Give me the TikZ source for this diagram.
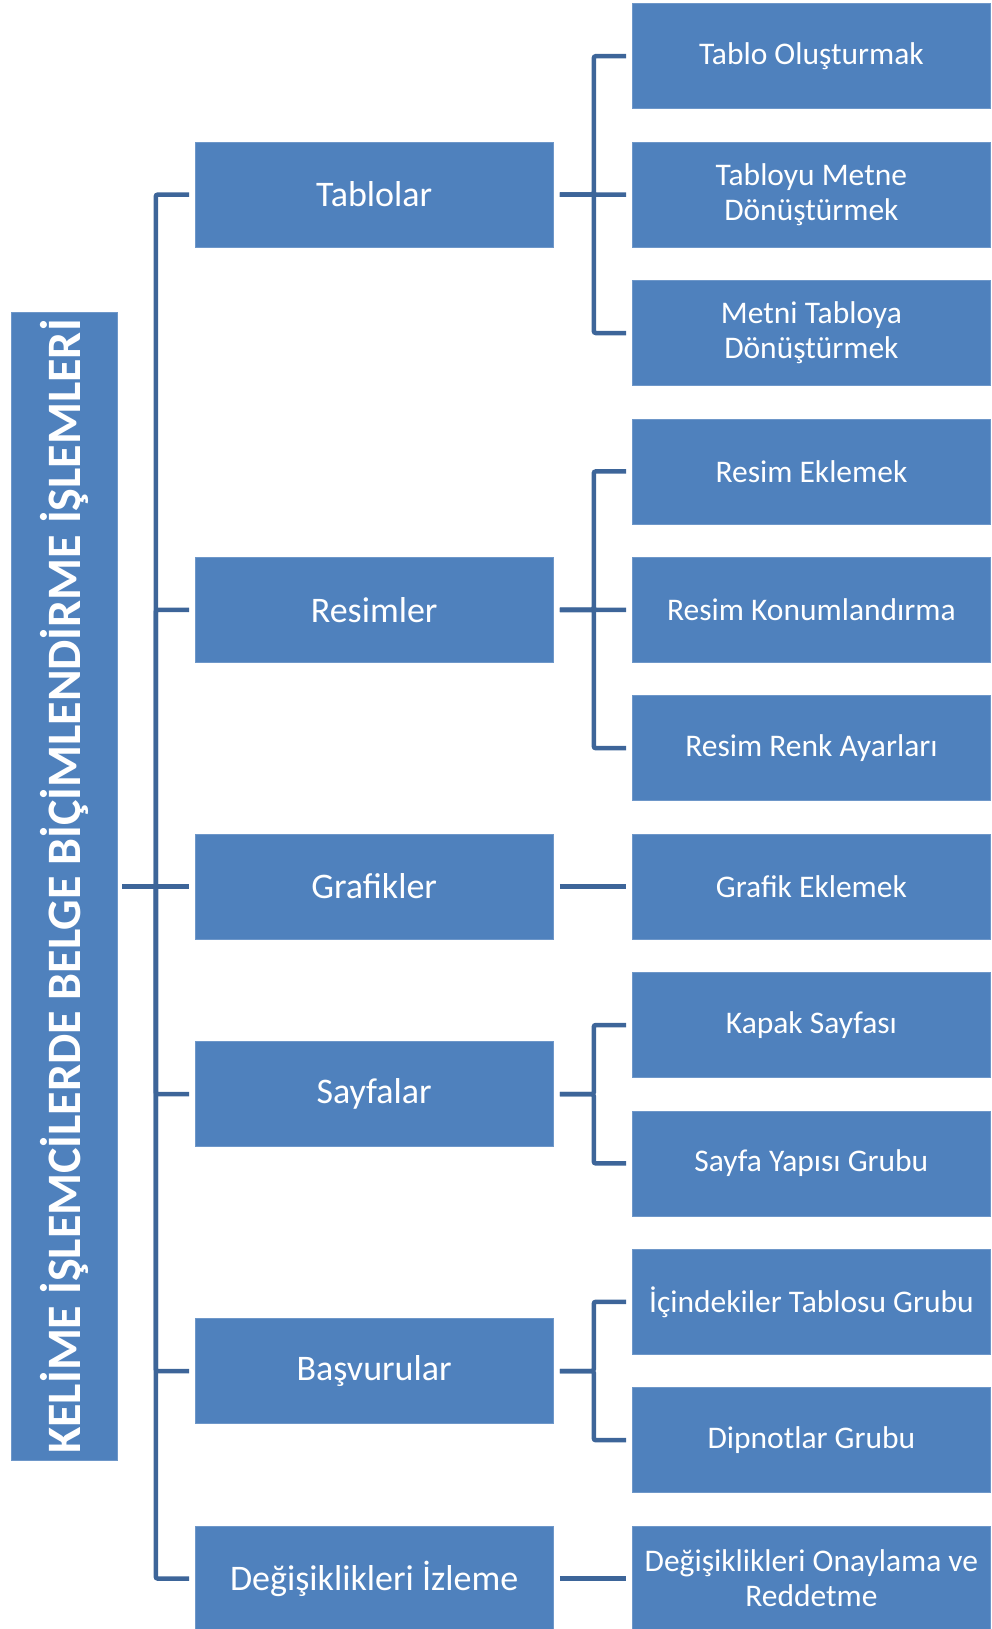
\documentclass[tikz,border=0pt]{standalone}
\usepackage{fontspec}
\setmainfont{Carlito}
\usetikzlibrary{positioning}
\definecolor{boxblue}{HTML}{4F81BD}
\definecolor{boxedge}{HTML}{6E97C9}
\definecolor{linecol}{RGB}{61,101,153}
\tikzset{
  bx/.style={rectangle, fill=boxblue, draw=boxedge, line width=0.8pt, inner sep=0pt, anchor=north west, text=white, align=center},
  lvtwo/.style={bx, minimum width=358.5pt, minimum height=105pt, font=\fontsize{36}{40}\selectfont},
  lvthree/.style={bx, minimum width=358pt, minimum height=105pt, font=\fontsize{31.5}{35}\selectfont},
  conn/.style={draw=linecol, line width=4.5pt, rounded corners=2pt},
  straightconn/.style={draw=linecol, line width=4.5pt}
}
\begin{document}
\begin{tikzpicture}[x=1pt,y=-1pt]
\useasboundingbox (0,0) rectangle (991,1629);
% main
\node[bx, minimum width=105.5pt, minimum height=1148.4pt] (main) at (11,312) {};
\node[rotate=90, text=white, font=\bfseries\fontsize{48}{56}\selectfont] (title) at (main.center) {KELİME İŞLEMCİLERDE BELGE BİÇİMLENDİRME İŞLEMLERİ};
% level 2
\node[lvtwo] (tab) at (194.5,141.7) {Tablolar};
\node[lvtwo] (res) at (194.5,556.9) {Resimler};
\node[lvtwo] (gra) at (194.5,833.7) {Grafikler};
\node[lvtwo] (say) at (194.5,1041.3) {Sayfalar};
\node[lvtwo] (bas) at (194.5,1318.1) {Başvurular};
\node[lvtwo] (deg) at (194.5,1525.7) {Değişiklikleri İzleme};
% level 3
\node[lvthree] (t1) at (632,3.3) {Tablo Oluşturmak};
\node[lvthree] (t2) at (632,141.7) {Tabloyu Metne\\Dönüştürmek};
\node[lvthree] (t3) at (632,280.1) {Metni Tabloya\\Dönüştürmek};
\node[lvthree] (r1) at (632,418.5) {Resim Eklemek};
\node[lvthree] (r2) at (632,556.9) {Resim Konumlandırma};
\node[lvthree] (r3) at (632,695.3) {Resim Renk Ayarları};
\node[lvthree] (g1) at (632,833.7) {Grafik Eklemek};
\node[lvthree] (s1) at (632,972.1) {Kapak Sayfası};
\node[lvthree] (s2) at (632,1110.5) {Sayfa Yapısı Grubu};
\node[lvthree] (b1) at (632,1248.9) {İçindekiler Tablosu Grubu};
\node[lvthree] (b2) at (632,1387.3) {Dipnotlar Grubu};
\node[lvthree] (d1) at (632,1525.7) {Değişiklikleri Onaylama ve\\Reddetme};
% connectors main -> level 2
\foreach \c in {tab,res,say,bas,deg}
  \draw[conn] ([xshift=5pt]main.east) -- ++(33.5,0) |- ([xshift=-5.5pt]\c.west);
\draw[straightconn] ([xshift=5pt]main.east) -- ([xshift=-5.5pt]gra.west);
% level 2 -> level 3
\foreach \p/\c in {tab/t1,tab/t2,tab/t3,res/r1,res/r2,res/r3,say/s1,say/s2,bas/b1,bas/b2}
  \draw[conn] ([xshift=6pt]\p.east) -- ++(34,0) |- ([xshift=-6pt]\c.west);
\foreach \p/\c in {gra/g1,deg/d1}
  \draw[straightconn] ([xshift=6pt]\p.east) -- ([xshift=-6pt]\c.west);
\end{tikzpicture}
\end{document}
